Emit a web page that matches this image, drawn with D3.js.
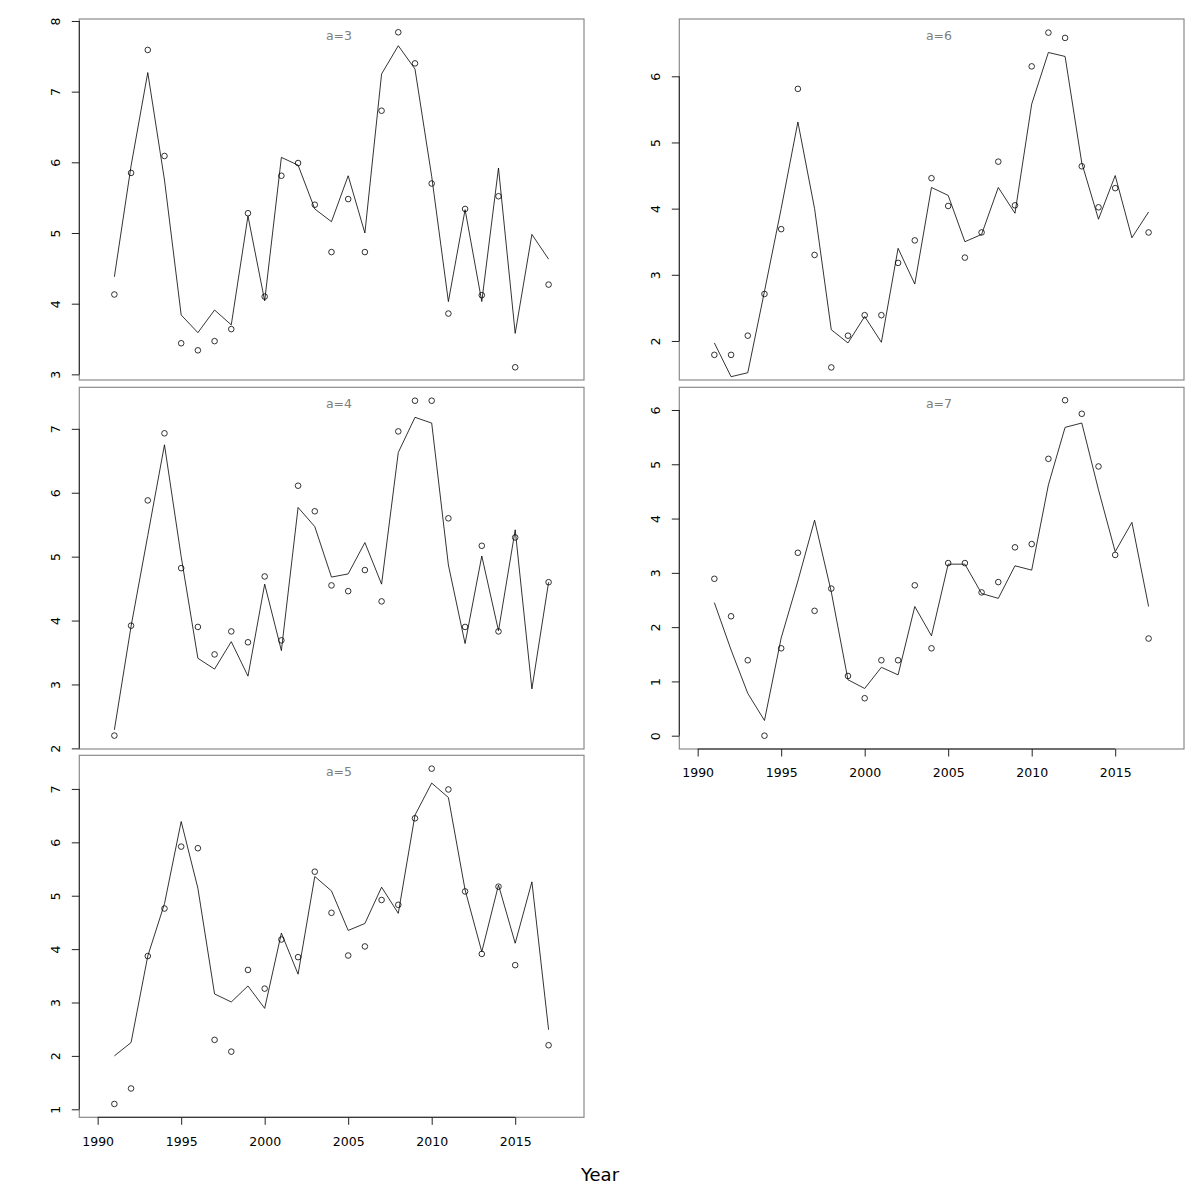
<!DOCTYPE html>
<html>
<head>
<meta charset="utf-8">
<script src="https://cdn.jsdelivr.net/npm/d3@7"></script>
<style>
  html, body { margin: 0; padding: 0; background: #fff; }
  svg { display: block; font-family: "DejaVu Sans", sans-serif; }
</style>
</head>
<body>
<svg id="chart" width="1200" height="1200"></svg>
<script>
// ---------- data ----------
const years = [1991,1992,1993,1994,1995,1996,1997,1998,1999,2000,2001,2002,2003,2004,2005,2006,2007,2008,2009,2010,2011,2012,2013,2014,2015,2016,2017];
const panelLabels = ["a=3","a=4","a=5","a=6","a=7"];

const obsA3 = [4.13,5.85,7.59,6.09,3.44,3.34,3.47,3.64,5.28,4.10,5.81,5.99,5.40,4.73,5.48,4.73,6.73,7.84,7.40,5.70,3.86,5.34,4.12,5.52,3.10,null,4.27];
const fitA3 = [4.38,5.95,7.27,5.75,3.84,3.59,3.91,3.70,5.24,4.04,6.07,5.96,5.34,5.16,5.81,5.00,7.25,7.65,7.32,5.80,4.03,5.33,4.03,5.92,3.58,4.98,4.63];

const obsA4 = [2.20,3.92,5.88,6.93,4.82,3.90,3.47,3.83,3.66,4.69,3.69,6.11,5.71,4.55,4.46,4.79,4.30,6.96,7.44,7.44,5.60,3.90,5.17,3.83,5.30,null,4.60];
const fitA4 = [2.29,3.91,5.33,6.75,5.00,3.41,3.24,3.67,3.13,4.57,3.53,5.77,5.47,4.68,4.73,5.22,4.57,6.63,7.18,7.09,4.87,3.64,5.01,3.84,5.42,2.93,4.60];

const obsA5 = [1.10,1.39,3.87,4.76,5.92,5.89,2.30,2.08,3.61,3.26,4.18,3.85,5.45,4.68,3.88,4.05,4.92,4.83,6.45,7.38,6.99,5.08,3.91,5.17,3.70,null,2.20];
const fitA5 = [2.00,2.25,3.87,4.85,6.39,5.14,3.16,3.01,3.31,2.89,4.30,3.53,5.36,5.09,4.35,4.48,5.16,4.67,6.51,7.11,6.84,5.11,3.95,5.20,4.11,5.26,2.49];

const obsA6 = [1.79,1.79,2.08,2.71,3.69,5.81,3.30,1.60,2.08,2.39,2.39,3.18,3.52,4.46,4.04,3.26,3.64,4.71,4.05,6.15,6.66,6.58,4.64,4.02,4.31,null,3.64];
const fitA6 = [1.97,1.46,1.52,2.75,4.00,5.31,4.00,2.17,1.97,2.37,1.98,3.40,2.86,4.32,4.20,3.50,3.61,4.32,3.93,5.58,6.36,6.30,4.69,3.84,4.50,3.56,3.95];

const obsA7 = [2.89,2.20,1.39,0.00,1.61,3.37,2.30,2.71,1.10,0.69,1.39,1.39,2.77,1.61,3.18,3.18,2.64,2.83,3.47,3.53,5.10,6.18,5.93,4.96,3.33,null,1.79];
const fitA7 = [2.45,1.58,0.78,0.28,1.80,2.85,3.97,2.65,1.03,0.87,1.26,1.12,2.38,1.84,3.16,3.16,2.62,2.53,3.13,3.05,4.62,5.68,5.76,4.53,3.39,3.93,2.38];

const yTicksA3 = [3,4,5,6,7,8];
const yTicksA4 = [2,3,4,5,6,7];
const yTicksA5 = [1,2,3,4,5,6,7];
const yTicksA6 = [2,3,4,5,6];
const yTicksA7 = [0,1,2,3,4,5,6];
const xTicks = [1990,1995,2000,2005,2010,2015];
const xTitle = "Year";

// ---------- layout ----------
const svg = d3.select("#chart");
const colX = [[79.3, 584], [679.3, 1184]];
const rowY = [[19, 380], [387.3, 749], [755.3, 1117.3]];
const xDomain = [1988.90, 2019.12];

const panels = [
  {label: panelLabels[0], obs: obsA3, fit: fitA3, ticks: yTicksA3, dom: [2.92, 8.028], col: 0, row: 0, xaxis: false},
  {label: panelLabels[1], obs: obsA4, fit: fitA4, ticks: yTicksA4, dom: [1.99, 7.65],  col: 0, row: 1, xaxis: false},
  {label: panelLabels[2], obs: obsA5, fit: fitA5, ticks: yTicksA5, dom: [0.85, 7.63],  col: 0, row: 2, xaxis: true},
  {label: panelLabels[3], obs: obsA6, fit: fitA6, ticks: yTicksA6, dom: [1.41, 6.866], col: 1, row: 0, xaxis: false},
  {label: panelLabels[4], obs: obsA7, fit: fitA7, ticks: yTicksA7, dom: [-0.245, 6.418], col: 1, row: 1, xaxis: true}
];

panels.forEach(p => {
  const [x0, x1] = colX[p.col];
  const [y0, y1] = rowY[p.row];
  const x = d3.scaleLinear().domain(xDomain).range([x0, x1]);
  const y = d3.scaleLinear().domain(p.dom).range([y1, y0]);
  const g = svg.append("g");

  // frame
  g.append("rect")
    .attr("x", x0).attr("y", y0)
    .attr("width", x1 - x0).attr("height", y1 - y0)
    .attr("fill", "none").attr("stroke", "#8a8a8a").attr("stroke-width", 1.2);

  // y axis
  const ya = g.append("g").attr("transform", `translate(${x0},0)`)
    .call(d3.axisLeft(y).tickValues(p.ticks).tickSize(7.5).tickSizeOuter(0).tickFormat(d3.format("d")));
  ya.select(".domain").attr("stroke", "#222").attr("stroke-width", 1)
    .attr("d", `M0,${y(p.ticks[0])}V${y(p.ticks[p.ticks.length-1])}`);
  ya.selectAll(".tick line").attr("stroke", "#222");
  ya.selectAll(".tick text")
    .attr("x", null).attr("dy", null)
    .attr("transform", "translate(-19,0) rotate(-90)")
    .attr("text-anchor", "middle")
    .attr("dy", "0em")
    .attr("font-size", 12.5).attr("fill", "#000")
    .attr("font-family", "DejaVu Sans");

  // x axis
  if (p.xaxis) {
    const xa = g.append("g").attr("transform", `translate(0,${y1})`)
      .call(d3.axisBottom(x).tickValues(xTicks).tickSize(7.5).tickSizeOuter(0).tickFormat(d3.format("d")));
    xa.select(".domain").attr("stroke", "#222").attr("stroke-width", 1)
      .attr("d", `M${x(xTicks[0])},0H${x(xTicks[xTicks.length-1])}`);
    xa.selectAll(".tick line").attr("stroke", "#222");
    xa.selectAll(".tick text")
      .attr("y", 24).attr("dy", "0.35em")
      .attr("font-size", 12.5).attr("fill", "#000")
      .attr("font-family", "DejaVu Sans");
  }

  // fitted line
  const line = d3.line().x((d, i) => x(years[i])).y(d => y(d));
  g.append("path").datum(p.fit)
    .attr("d", line)
    .attr("fill", "none").attr("stroke", "#000").attr("stroke-width", 0.8);

  // observed points
  g.selectAll("circle.obs")
    .data(p.obs.map((v, i) => ({yr: years[i], v})).filter(d => d.v !== null))
    .join("circle")
    .attr("class", "obs")
    .attr("cx", d => x(d.yr)).attr("cy", d => y(d.v))
    .attr("r", 2.8)
    .attr("fill", "none").attr("stroke", "#000").attr("stroke-width", 0.8);

  // panel label
  g.append("text")
    .attr("x", (x0 + x1) / 2 + 7.3).attr("y", y0 + 21)
    .attr("text-anchor", "middle")
    .attr("font-size", 12.5).attr("fill", "#808080")
    .text(p.label);
});

// common x title
svg.append("text")
  .attr("x", 600).attr("y", 1181)
  .attr("text-anchor", "middle")
  .attr("font-size", 18).attr("fill", "#000")
  .text(xTitle);
</script>
</body>
</html>
